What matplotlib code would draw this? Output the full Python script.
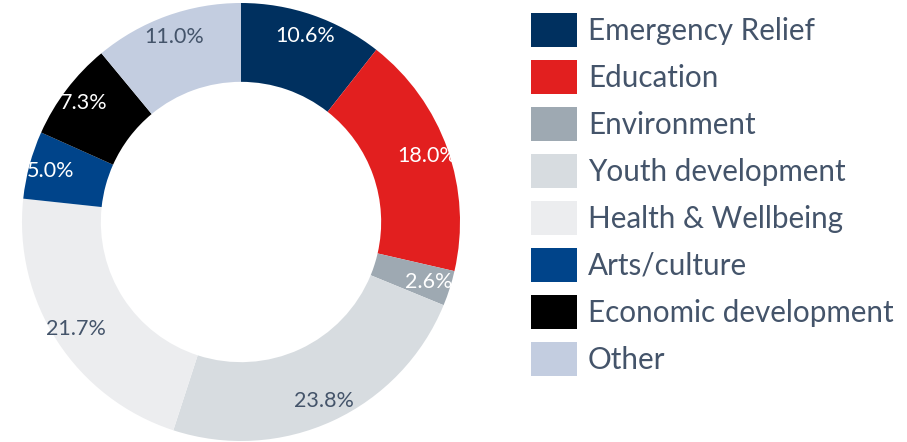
import matplotlib
matplotlib.use("Agg")
import matplotlib.pyplot as plt
from matplotlib.patches import Circle

categories = ["Emergency Relief", "Education", "Environment", "Youth development",
              "Health & Wellbeing", "Arts/culture", "Economic development", "Other"]
values = [10.6, 18.0, 2.6, 23.8, 21.7, 5.0, 7.3, 11.0]
colors = ["#00305F", "#E21F1F", "#9EA9B2", "#D7DCE0", "#ECEDEF", "#00448A", "#000000", "#C3CDE0"]
label_colors = ["white", "white", "white", "#44546A", "#44546A", "white", "white", "#44546A"]

plt.rcParams['font.family'] = ['Lato', 'DejaVu Sans']
TEXT = "#44546A"

W, H = 907, 442
fig = plt.figure(figsize=(W / 100, H / 100), dpi=100)
cx, cy, R = 241, 222, 219
ax = fig.add_axes([(cx - R) / W, (H - cy - R) / H, 2 * R / W, 2 * R / H])

wedges, texts, autotexts = ax.pie(
    values, colors=colors, startangle=90, counterclock=False,
    autopct="%.1f%%", pctdistance=0.9,
    wedgeprops=dict(width=0.36, edgecolor="none"),
    textprops=dict(fontsize=15.5))
clip = Circle((0, 0), 1.0, transform=ax.transData)
for t, c in zip(autotexts, label_colors):
    t.set_color(c)
    t.set_clip_path(clip)
ax.set_xlim(-1, 1)
ax.set_ylim(-1, 1)
ax.set_aspect("equal")

fs = 21.3
fpx = fs * 100 / 72
hh = (34 / fpx - 0.245) / 0.65
leg = fig.legend(wedges, categories, loc="upper left",
                 bbox_to_anchor=(531 / W, 1 - 13 / H), frameon=False,
                 fontsize=fs, labelcolor=TEXT, borderpad=0, borderaxespad=0,
                 handlelength=46 / fpx, handleheight=hh,
                 labelspacing=(47 - 34) / fpx, handletextpad=11 / fpx)

fig.savefig("out.png", dpi=100)
